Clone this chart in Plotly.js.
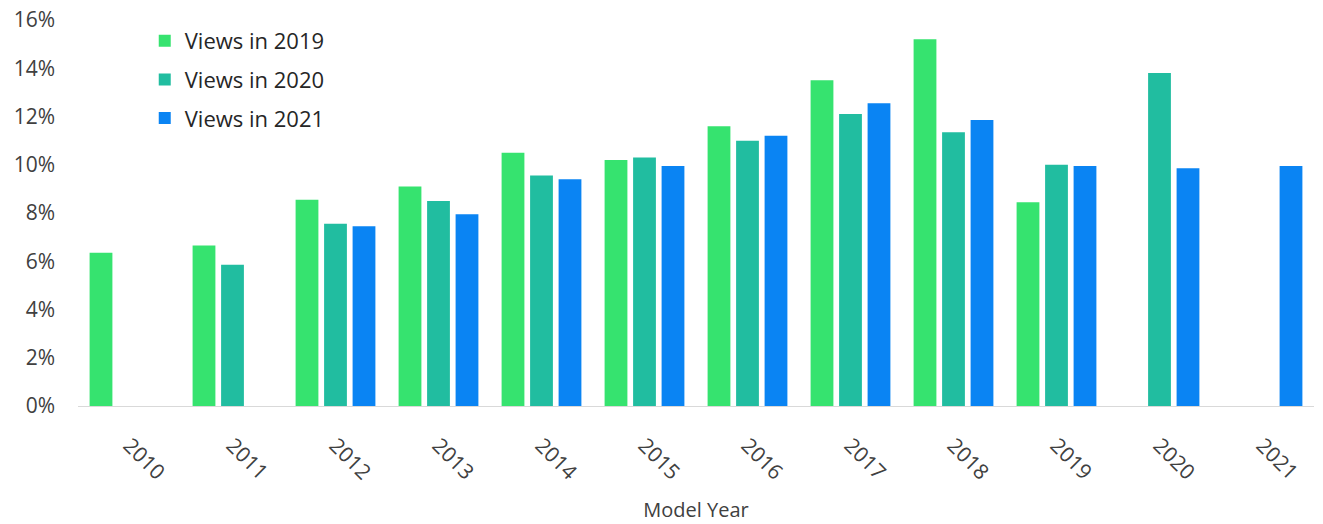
<!DOCTYPE html>
<html>
<head>
<meta charset="utf-8">
<script src="https://cdn.plot.ly/plotly-3.0.1.min.js"></script>
<style>html,body{margin:0;padding:0;background:#fff;}#chart{width:1323px;height:524px;}</style>
</head>
<body>
<div id="chart"></div>
<script>
var categories = ['2010','2011','2012','2013','2014','2015','2016','2017','2018','2019','2020','2021'];
var views2019 = [6.35, 6.65, 8.55, 9.1, 10.5, 10.2, 11.6, 13.5, 15.2, 8.45, null, null];
var views2020 = [null, 5.85, 7.55, 8.5, 9.55, 10.3, 11.0, 12.1, 11.35, 10.0, 13.8, null];
var views2021 = [null, null, 7.45, 7.95, 9.4, 9.95, 11.2, 12.55, 11.85, 9.95, 9.85, 9.95];
var yTickVals = [0,2,4,6,8,10,12,14,16];
var yTickText = ['0%','2%','4%','6%','8%','10%','12%','14%','16%'];

var font = {family: 'Open Sans, Noto Sans, sans-serif', color: '#404040'};
var traces = [
  {type:'bar', name:'Views in 2019', legendgroup:'a', x:categories, y:views2019, marker:{color:'#36E36F'}},
  {type:'bar', name:'Views in 2020', legendgroup:'b', x:categories, y:views2020, marker:{color:'#21BDA0'}},
  {type:'bar', name:'Views in 2021', legendgroup:'c', x:categories, y:views2021, marker:{color:'#0A84F3'}}
];
var layout = {
  width:1323, height:524,
  margin:{l:78, r:9, t:20, b:118},
  paper_bgcolor:'#fff', plot_bgcolor:'#fff',
  barmode:'group', bargap:0.17, bargroupgap:0.2,
  font:{family:font.family, color:font.color, size:20},
  showlegend:true,
  legend:{x:0.054, y:1.0, xanchor:'left', yanchor:'top', tracegroupgap:7, bgcolor:'rgba(0,0,0,0)', font:{size:22, color:'#262626'}},
  xaxis:{type:'category', tickangle:45, tickfont:{size:21, color:'#404040'}, ticklabelstandoff:18, showgrid:false, showline:true, linecolor:'#d9d9d9', linewidth:1, ticks:'', zeroline:false,
    title:{text:'Model Year', font:{size:20, color:'#404040'}, standoff:18}},
  yaxis:{range:[0,16], tickvals:yTickVals, ticktext:yTickText, tickfont:{size:21, color:'#404040'}, ticklabelstandoff:22, showgrid:false, zeroline:false, showline:false, ticks:'', ticklen:0, automargin:false}
};
Plotly.newPlot('chart', traces, layout, {displayModeBar:false, staticPlot:true});
</script>
</body>
</html>
